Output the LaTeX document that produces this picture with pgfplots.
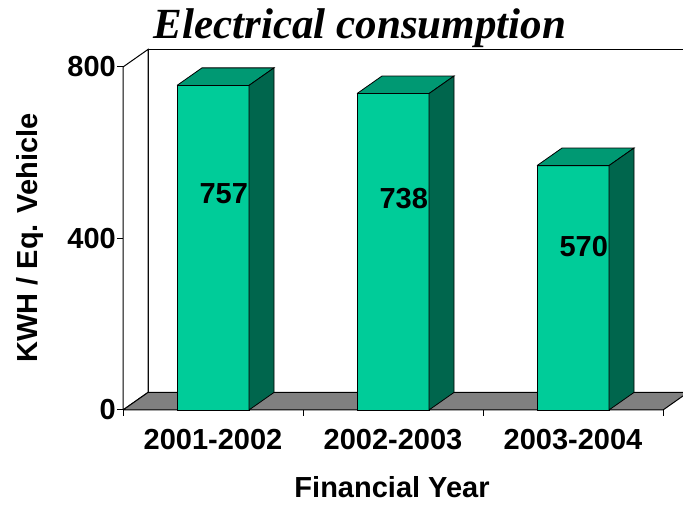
\documentclass[border=0pt]{standalone}
\usepackage{pgfplots}
\pgfplotsset{compat=1.18}
\usepackage{fontspec}
\setmainfont{Liberation Sans}
\newfontfamily\titlefont{Liberation Serif}
\definecolor{frontc}{RGB}{0,204,153}
\definecolor{topc}{RGB}{0,153,115}
\definecolor{sidec}{RGB}{0,102,77}
\definecolor{floorc}{RGB}{128,128,128}
\def\dx{0.139}
\def\dy{41}
\begin{document}
\begin{tikzpicture}[x=1pt,y=1pt]
\useasboundingbox (0,0) rectangle (683,505);
\begin{axis}[
  at={(123pt,95pt)}, anchor=south west,
  scale only axis, width=540pt, height=343pt,
  xmin=-0.5, xmax=2.5, ymin=0, ymax=800,
  clip=false,
  axis x line=bottom, axis y line=left,
  axis line style={-, line width=1pt},
  tick align=outside, major tick length=6pt,
  tick style={black, line width=1pt},
  ytick={0,400,800},
  xtick={-0.5,0.5,1.5,2.5}, xticklabels={},
  extra x ticks={0,1,2},
  extra x tick labels={2001-2002,2002-2003,2003-2004},
  extra x tick style={major tick length=0pt},
  /pgf/number format/assume math mode=true,
  tick label style={font=\bfseries\fontsize{29}{29}\selectfont},
  yticklabel style={inner sep=1pt},
  xticklabel style={inner sep=0pt, yshift=-19pt},
]
% back wall, left wall, floor
\addplot[fill=white, draw=black, line width=1pt] coordinates {(-0.361,41) (2.639,41) (2.639,841) (-0.361,841) (-0.361,41)};
\addplot[fill=white, draw=black, line width=1pt] coordinates {(-0.5,0) (-0.361,41) (-0.361,841) (-0.5,800) (-0.5,0)};
\addplot[fill=floorc, draw=black, line width=1pt] coordinates {(-0.5,0) (2.5,0) (2.639,41) (-0.361,41) (-0.5,0)};
% front faces
\addplot[ybar, bar width=0.4, bar shift=0pt, fill=frontc, draw=black, line width=0.8pt] coordinates {(0,757) (1,738) (2,570)};
% top and side faces, labels
\pgfplotsforeachungrouped \c/\v in {0/757,1/738,2/570}{
  \pgfmathsetmacro\xa{\c-0.2}
  \pgfmathsetmacro\xb{\c+0.2}
  \pgfmathsetmacro\xc{\c-0.2+\dx}
  \pgfmathsetmacro\xd{\c+0.2+\dx}
  \pgfmathsetmacro\vt{\v+\dy}
  \pgfmathsetmacro\xl{\c+0.06}
  \pgfmathsetmacro\yl{0.667*\v}
  \edef\temp{%
    \noexpand\addplot[fill=topc, draw=black, line width=0.8pt] coordinates {(\xa,\v) (\xb,\v) (\xd,\vt) (\xc,\vt) (\xa,\v)};
    \noexpand\addplot[fill=sidec, draw=black, line width=0.8pt] coordinates {(\xb,0) (\xd,\dy) (\xd,\vt) (\xb,\v) (\xb,0)};
    \noexpand\node[font=\noexpand\bfseries\noexpand\fontsize{29}{29}\noexpand\selectfont] at (axis cs:\xl,\yl) {\v};
  }
  \temp
}
\end{axis}
\node[rotate=90, font=\bfseries\fontsize{29}{29}\selectfont] at (30,267) {KWH / Eq. Vehicle};
\node[anchor=base, inner sep=0pt, font=\bfseries\fontsize{29}{29}\selectfont] at (392,7) {Financial Year};
\node[anchor=base, font=\titlefont\bfseries\itshape\fontsize{43}{43}\selectfont] at (360,466) {Electrical consumption};
\end{tikzpicture}
\end{document}
